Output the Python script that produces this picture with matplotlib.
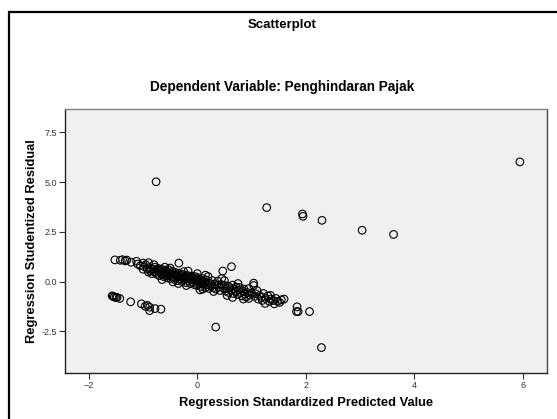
import matplotlib
matplotlib.use('Agg')
import matplotlib.pyplot as plt
from matplotlib.patches import Rectangle

plt.rcParams['font.family'] = ['Liberation Sans', 'DejaVu Sans']

# main band of residuals (predicted value, studentized residual)
band_x = [-1.52, -1.42, -1.38, -1.33, -1.30, -1.22, -1.12, -1.10, -1.05, -1.00, -0.98, -0.95,
          -0.92, -0.90, -0.88, -0.86, -0.84, -0.82, -0.80, -0.78, -0.77, -0.75, -0.74, -0.72,
          -0.71, -0.70, -0.68, -0.67, -0.66, -0.64, -0.63, -0.62, -0.60, -0.59, -0.58, -0.56,
          -0.55, -0.54, -0.53, -0.51, -0.50, -0.49, -0.48, -0.46, -0.45, -0.44, -0.42, -0.41,
          -0.40, -0.38, -0.37, -0.36, -0.35, -0.34, -0.33, -0.31, -0.30,
          -0.28, -0.27, -0.25, -0.24, -0.22, -0.21, -0.20, -0.18, -0.17, -0.16, -0.15, -0.13,
          -0.12, -0.11, -0.09, -0.08, -0.06, -0.05, -0.04, -0.02, -0.01, 0.00, 0.01, 0.02,
          0.04, 0.05, 0.07, 0.08, 0.10, 0.11, 0.13, 0.15, 0.16, 0.18, 0.20, 0.22, 0.24, 0.26,
          0.28, 0.30,
          0.32, 0.34, 0.36, 0.38, 0.40, 0.42, 0.44, 0.47, 0.48, 0.50, 0.52, 0.54, 0.56, 0.58,
          0.60, 0.62, 0.63, 0.65, 0.66, 0.68, 0.70, 0.72, 0.74, 0.76, 0.78, 0.80, 0.82, 0.84,
          0.86, 0.88, 0.90, 0.92, 0.95, 0.97, 1.00,
          1.04, 1.04, 1.06, 1.08, 1.12, 1.15, 1.18, 1.20, 1.22, 1.26, 1.30, 1.33, 1.36, 1.40,
          1.42, 1.45, 1.48, 1.52, 1.55, 1.60,
          -1.00, -0.90, -0.80, -0.65, -0.60, -0.50, -0.45, -0.35, -0.25, -0.20, 0.00, 0.05,
          0.10, 0.15, 0.20, 0.30, 0.45, 0.50, 0.55, 0.65, 0.75, 0.85, 0.95, 1.10, 1.25, 1.35]
band_y = [1.09, 1.07, 1.10, 1.04, 1.08, 0.97, 1.02, 0.88, 0.80, 0.93, 0.75, 0.85,
          0.62, 0.48, 0.70, 0.55, 0.40, 0.63, 0.50, 0.72, 0.45, 0.58, 0.36, 0.66,
          0.50, 0.30, 0.55, 0.42, 0.62, 0.35, 0.48, 0.25, 0.57, 0.40, 0.30, 0.50,
          0.18, 0.38, 0.60, 0.28, 0.45, 0.15, 0.36, 0.52, 0.25, 0.40, 0.10, 0.32,
          0.46, 0.20, 0.35, 0.05, 0.28, 0.93, 0.42, 0.15, 0.30,
          0.00, 0.22, 0.35, 0.10, 0.25, -0.05, 0.15, 0.30, 0.53, 0.05, 0.20, -0.10,
          0.12, 0.28, 0.00, 0.18, -0.15, 0.08, 0.25, -0.05, 0.12, -0.20, 0.20, 0.02,
          -0.10, 0.10, -0.25, 0.00, 0.15, -0.12, -0.02, -0.30, 0.08, -0.15, -0.05, -0.35, -0.10, -0.22,
          0.05, -0.30,
          -0.12, -0.38, -0.20, 0.02, -0.28, -0.45, -0.15, 0.53, -0.32, -0.20, -0.48, -0.35, -0.22, -0.55,
          -0.30, -0.42, 0.75, -0.18, -0.60, -0.38, -0.50, -0.28, -0.65, -0.42, -0.30, -0.55, -0.72, -0.48,
          -0.38, -0.62, -0.78, -0.55, -0.85, -0.68, -0.58,
          -0.08, -0.20, -0.75, -0.62, -0.88, -0.70, -0.80, -0.95, -0.60, -0.85, -0.72, -1.00, -0.88, -0.95,
          -1.12, -0.85, -1.00, -1.05, -0.92, -0.88,
          0.62, 0.95, 0.85, 0.10, 0.72, 0.68, -0.02, -0.10, 0.50, -0.20, 0.40, -0.42,
          -0.38, 0.32, 0.25, -0.50, 0.15, 0.05, -0.70, -0.80, -0.10, -0.88, -0.35, -0.45, -1.10, -0.70]

# lower band
low_x = [-1.57, -1.55, -1.53, -1.50, -1.48, -1.43, -1.23, -1.03, -0.96, -0.92, -0.88, -0.88, -0.78, -0.67]
low_y = [-0.72, -0.75, -0.78, -0.80, -0.80, -0.85, -1.02, -1.12, -1.24, -1.20, -1.29, -1.46, -1.36, -1.39]

# isolated points
out_x = [-0.76, 1.28, 1.94, 1.95, 2.30, 3.04, 3.62, 5.95, 0.34, 2.29, 2.07, 1.83, 1.86, 1.84]
out_y = [5.02, 3.72, 3.40, 3.28, 3.08, 2.58, 2.37, 6.02, -2.29, -3.32, -1.51, -1.51, -1.51, -1.27]

xs = band_x + low_x + out_x
ys = band_y + low_y + out_y

fig = plt.figure(figsize=(5.57, 4.19), dpi=100, facecolor='white')
ax = fig.add_axes([65 / 557, 1 - 373 / 419, 482 / 557, 264 / 419])
ax.set_facecolor('#f0f0f0')

ax.scatter(xs, ys, s=30, facecolors='none', edgecolors='black', linewidths=0.8, zorder=3)

ax.set_xlim(-2.44, 6.45)
ax.set_ylim(-4.6, 8.68)
ax.set_xticks([-2, 0, 2, 4, 6])
ax.set_yticks([-2.5, 0.0, 2.5, 5.0, 7.5])
ax.set_yticklabels(['-2.5', '0.0', '2.5', '5.0', '7.5'])
ax.tick_params(labelsize=6.5, colors='#333333', length=4, width=0.8, pad=2)

for s in ['left', 'bottom']:
    ax.spines[s].set_color('#222222')
ax.spines['top'].set_color('#808080')
ax.spines['right'].set_color('#444444')
for s in ax.spines.values():
    s.set_linewidth(1.0)

ax.set_xlabel('Regression Standardized Predicted Value', fontsize=9.3, fontweight='bold', labelpad=5)
ax.set_ylabel('Regression Studentized Residual', fontsize=9.3, fontweight='bold', labelpad=2)

fig.text(282 / 557, 1 - 25 / 419, 'Scatterplot', ha='center', va='center', fontsize=9.5, fontweight='bold')
fig.text(282 / 557, 1 - 87 / 419, 'Dependent Variable: Penghindaran Pajak', ha='center', va='center',
         fontsize=9.8, fontweight='bold')

# outer frame
fig.patches.append(Rectangle((9 / 557, -0.05), 1.1, 1 - 12 / 419 + 0.05, transform=fig.transFigure,
                             fill=False, edgecolor='black', linewidth=1.6))

fig.savefig('out.png', dpi=100)
